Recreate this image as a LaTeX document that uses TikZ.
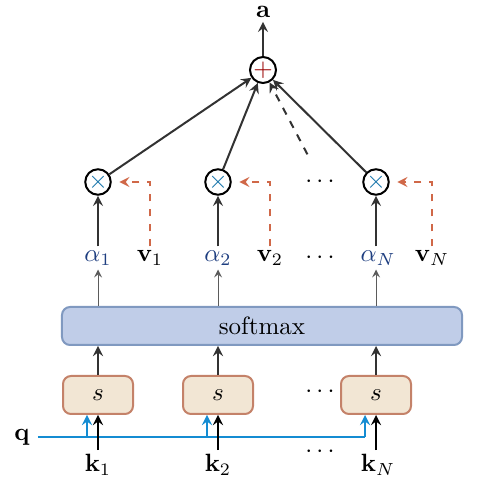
\documentclass[tikz,border=0pt]{standalone}
\usepackage{amsmath}
\definecolor{scorefill}{RGB}{242,230,212}
\definecolor{scoredraw}{RGB}{196,130,105}
\definecolor{softfill}{RGB}{192,205,232}
\definecolor{softdraw}{RGB}{128,153,192}
\definecolor{valcol}{RGB}{208,104,72}
\definecolor{querycol}{RGB}{20,140,210}
\definecolor{alphacol}{RGB}{30,62,128}
\definecolor{linecol}{RGB}{50,50,50}
\begin{document}
\begin{tikzpicture}[
  x=0.4pt,
  y=0.4pt,
  score/.style={draw=scoredraw,fill=scorefill,line width=0.8pt,rounded corners=3.2pt,minimum width=28pt,minimum height=15.2pt},
  softbox/.style={draw=softdraw,fill=softfill,line width=0.8pt,rounded corners=3.2pt,minimum width=160pt,minimum height=15.2pt},
  mult/.style={circle,draw=black,line width=0.8pt,minimum size=9.4pt,inner sep=0pt},
  addnode/.style={circle,draw=black,line width=0.8pt,minimum size=10.4pt,inner sep=0pt},
  lbl/.style={inner sep=1.5pt},
  main/.style={draw=linecol,line width=0.8pt,-stealth},
  weak/.style={draw=linecol!80,line width=0.4pt,-stealth},
  valarrow/.style={draw=valcol,line width=0.8pt,dashed,-stealth,shorten >=3pt},
  qline/.style={draw=querycol,line width=0.8pt}
]
  \useasboundingbox (0,0) rectangle (487,486);

  \node[lbl] (a) at (263,474) {$\mathbf{a}$};
  \node[addnode] (sum) at (263,416) {\textcolor{red!60!black}{$+$}};

  \node[mult] (m1) at (98,304) {\textcolor{querycol!80!black}{$\times$}};
  \node[mult] (m2) at (218,304) {\textcolor{querycol!80!black}{$\times$}};
  \node[mult] (mN) at (376,304) {\textcolor{querycol!80!black}{$\times$}};
  \node (dm) at (322,304) {$\cdots$};

  \node[lbl,text=alphacol] (al1) at (98,228) {$\alpha_1$};
  \node[lbl,text=alphacol] (al2) at (218,228) {$\alpha_2$};
  \node[lbl,text=alphacol] (alN) at (378,228) {$\alpha_N$};
  \node (da) at (322,228) {$\cdots$};
  \node[lbl] (v1) at (150,228) {$\mathbf{v}_1$};
  \node[lbl] (v2) at (270,228) {$\mathbf{v}_2$};
  \node[lbl] (vN) at (432,228) {$\mathbf{v}_N$};

  \node[softbox] (sm) at (262,160) {softmax};

  \node[score] (s1) at (98,91) {$s$};
  \node[score] (s2) at (218,91) {$s$};
  \node[score] (sN) at (376,91) {$s$};
  \node (ds) at (322,94) {$\cdots$};

  \node[lbl] (q) at (22,49) {$\mathbf{q}$};
  \node[lbl] (k1) at (98,21) {$\mathbf{k}_1$};
  \node[lbl] (k2) at (218,21) {$\mathbf{k}_2$};
  \node[lbl] (kN) at (378,21) {$\mathbf{k}_N$};
  \node (dk) at (322,34) {$\cdots$};

  \coordinate (j1) at (87,49);
  \coordinate (j2) at (207,49);
  \coordinate (jN) at (365,49);

  \draw[main] (sum) -- (a);
  \draw[main] (m1) -- (sum);
  \draw[main] (m2) -- (sum);
  \draw[main] (mN) -- (sum);
  \draw[main,dashed,shorten <=6pt] (dm) -- (sum);

  \draw[main] (al1) -- (m1);
  \draw[main] (al2) -- (m2);
  \draw[main] (alN.north -| mN) -- (mN);
  \draw[valarrow] (v1.north) |- (m1.east);
  \draw[valarrow] (v2.north) |- (m2.east);
  \draw[valarrow] (vN.north) |- (mN.east);

  \draw[weak] (sm.north -| al1) -- (al1);
  \draw[weak] (sm.north -| al2) -- (al2);
  \draw[weak] (sm.north -| mN) -- (alN.south -| mN);

  \draw[main] (s1) -- (sm.south -| s1);
  \draw[main] (s2) -- (sm.south -| s2);
  \draw[main] (sN) -- (sm.south -| sN);

  \draw[qline] (q.east) ++(4,0) -- (jN);
  \draw[qline,-stealth] (j1) -- (j1 |- s1.south);
  \draw[qline,-stealth] (j2) -- (j2 |- s2.south);
  \draw[qline,-stealth] (jN) -- (jN |- sN.south);

  \draw[main,draw=black] (k1) -- (s1);
  \draw[main,draw=black] (k2) -- (s2);
  \draw[main,draw=black] (kN.north -| sN) -- (sN);
\end{tikzpicture}
\end{document}
